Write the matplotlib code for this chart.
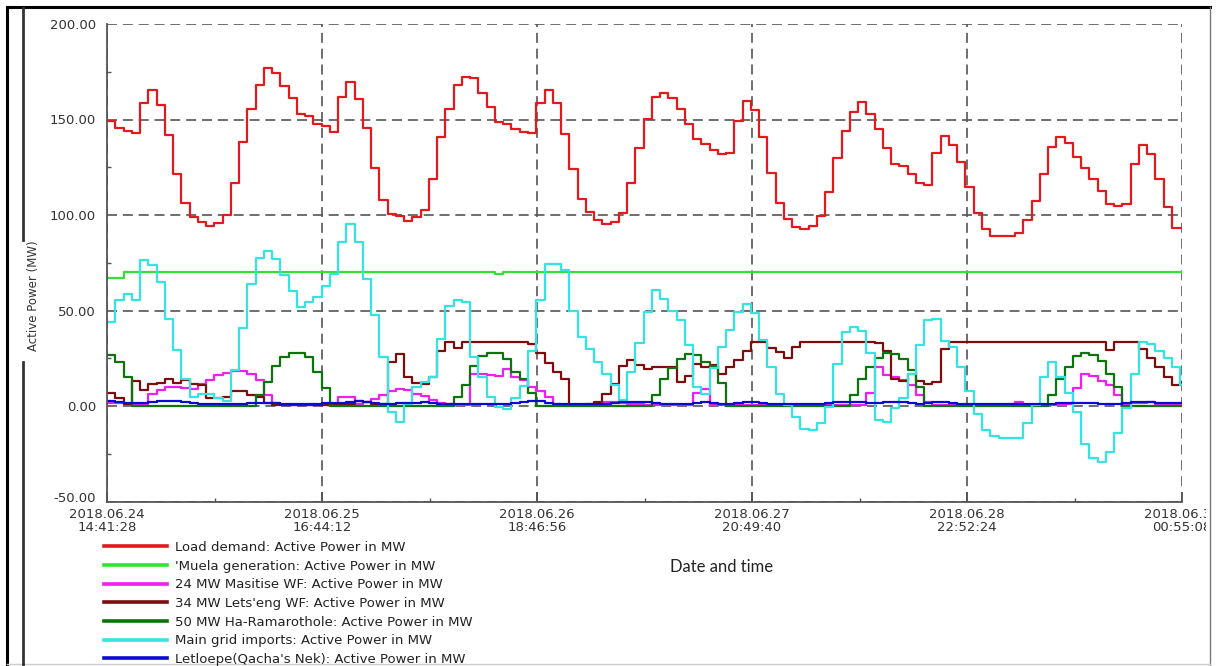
import numpy as np
import pandas as pd
import matplotlib
matplotlib.use('Agg')
import matplotlib.pyplot as plt
from matplotlib.lines import Line2D
from matplotlib.transforms import Bbox, TransformedBbox, ScaledTranslation

plt.rcParams['font.family'] = ['DejaVu Sans']
plt.rcParams['axes.unicode_minus'] = False

# 时间轴：从 2018.06.24 14:41:28 开始，每个主刻度间隔 1 天 2:02:44
start = pd.Timestamp('2018-06-24 14:41:28')
tick_step = pd.Timedelta('1 days 02:02:44')
tick_times = [start + k * tick_step for k in range(6)]
tick_labels = [t.strftime('%Y.%m.%d\n%H:%M:%S') for t in tick_times]

# 每小时一个采样点 (MW)
load_demand = [
    149.0, 145.3, 143.9, 142.7, 158.4, 165.7, 157.5, 141.8, 121.7, 106.3,
    99.0, 96.4, 94.3, 95.9, 99.9, 116.8, 138.3, 155.7, 168.3, 177.2,
    174.1, 167.4, 161.0, 153.1, 151.7, 147.9, 146.5, 143.5, 161.9, 169.7,
    160.5, 145.3, 124.8, 108.1, 100.7, 99.3, 96.9, 98.7, 102.8, 118.6,
    140.9, 155.7, 168.0, 172.3, 171.5, 164.0, 156.6, 148.8, 147.9, 144.8,
    143.5, 143.0, 158.7, 165.7, 158.7, 142.3, 124.3, 108.6, 101.6, 97.3,
    95.5, 96.4, 101.3, 116.8, 135.1, 150.5, 161.9, 164.0, 161.5, 155.7,
    147.9, 140.0, 137.1, 133.9, 131.7, 132.2, 149.3, 159.8, 154.9, 140.6,
    122.0, 106.3, 98.1, 93.8, 92.9, 94.0, 99.3, 112.1, 129.6, 144.0,
    154.0, 159.2, 153.1, 144.8, 135.3, 126.9, 125.7, 121.7, 116.5, 115.6,
    132.2, 141.3, 136.5, 127.5, 114.4, 101.3, 92.9, 88.9, 88.9, 88.9,
    90.6, 97.3, 107.4, 121.3, 135.7, 140.9, 137.8, 130.4, 124.8, 118.7,
    112.6, 105.6, 104.6, 106.0, 126.6, 136.5, 131.8, 118.7, 104.2, 93.2,
    93.2,
]
muela = [67.0, 67.0] + [70.0] * 45 + [69.3] + [70.0] * 83
masitise = [
    1.5, 1.5, 1.0, 1.0, 1.0, 6.5, 8.5, 10.0, 10.0, 9.5,
    9.0, 11.5, 13.5, 16.0, 17.5, 18.5, 18.5, 16.5, 13.5, 6.0,
    1.5, 0.5, 0.5, 0.5, 0.5, 0.5, 0.5, 1.0, 4.5, 4.5,
    1.0, 2.0, 3.5, 5.5, 8.0, 9.0, 8.5, 6.5, 5.0, 3.0,
    1.5, 1.0, 0.5, 0.5, 17.0, 17.0, 16.0, 15.5, 19.5, 15.0,
    13.5, 10.0, 8.0, 4.5, 1.0, 0.5, 0.5, 0.5, 1.0, 1.0,
    2.0, 2.0, 1.5, 1.0, 1.0, 0.5, 0.5, 0.5, 0.5, 0.5,
    0.5, 7.0, 9.0, 0.5, 0.5, 0.5, 0.5, 0.5, 0.5, 0.5,
    0.5, 0.5, 0.5, 0.5, 0.5, 0.5, 0.5, 0.5, 0.5, 0.5,
    0.5, 0.5, 7.0, 20.5, 16.0, 15.0, 13.5, 11.0, 6.0, 2.0,
    0.5, 0.5, 0.5, 0.5, 0.5, 0.5, 0.5, 0.5, 0.5, 0.5,
    2.0, 0.5, 0.5, 0.5, 0.5, 0.5, 1.0, 9.5, 17.0, 15.5,
    13.0, 11.0, 6.0, 0.5, 1.5, 1.5, 2.0, 1.0, 0.5, 0.5,
    0.5,
]
letseng = [
    7.0, 4.0, 1.0, 13.0, 8.5, 11.5, 12.0, 14.0, 12.0, 13.5,
    11.5, 11.0, 4.0, 4.0, 4.5, 8.0, 8.0, 6.0, 4.5, 1.5,
    0.5, 0.5, 0.5, 0.5, 0.5, 0.5, 0.5, 1.0, 1.0, 1.0,
    2.5, 2.0, 1.0, 1.0, 23.0, 27.0, 15.0, 12.0, 11.5, 15.0,
    29.0, 33.5, 30.5, 33.5, 33.5, 33.5, 33.5, 33.5, 33.5, 33.5,
    33.5, 32.5, 27.5, 22.5, 18.0, 14.0, 0.5, 0.5, 0.5, 2.0,
    6.5, 11.5, 21.0, 24.0, 21.5, 19.5, 20.5, 20.5, 20.5, 12.5,
    15.5, 22.0, 20.5, 21.5, 17.0, 20.5, 24.0, 29.0, 33.5, 33.5,
    30.5, 28.5, 25.0, 31.0, 33.5, 33.5, 33.5, 33.5, 33.5, 33.5,
    33.5, 33.5, 33.5, 33.0, 29.0, 14.0, 13.0, 17.0, 13.0, 11.5,
    12.5, 30.0, 33.5, 33.5, 33.5, 33.5, 33.5, 33.5, 33.5, 33.5,
    33.5, 33.5, 33.5, 33.5, 33.5, 33.5, 33.5, 33.5, 33.5, 33.5,
    33.5, 29.5, 33.5, 33.5, 33.5, 30.0, 25.0, 20.5, 15.0, 11.0,
    12.5,
]
ramarothole = [
    26.5, 23.0, 15.0, 0, 0, 0, 0, 0, 0, 0,
    0, 0, 0, 0, 0, 0, 0, 0, 5.5, 12.5,
    21.0, 25.5, 27.8, 27.8, 25.5, 18.0, 9.5, 0, 0, 0,
    0, 0, 0, 0, 0, 0, 0, 0, 0, 0,
    0, 0, 4.7, 11.0, 21.0, 26.0, 27.5, 27.5, 24.5, 18.0,
    14.0, 7.0, 0, 0, 0, 0, 0, 0, 0, 0,
    0, 0, 0, 0, 0, 0, 5.6, 14.3, 20.0, 24.8,
    27.4, 26.5, 23.0, 21.0, 12.0, 0, 0, 0, 0, 0,
    0, 0, 0, 0, 0, 0, 0, 0, 0, 0,
    6.0, 14.0, 20.5, 25.3, 27.8, 27.0, 24.5, 19.0, 10.0, 0,
    0, 0, 0, 0, 0, 0, 0, 0, 0, 0,
    0, 0, 0, 0, 5.6, 14.3, 20.4, 26.0, 27.8, 26.5,
    23.5, 17.0, 10.0, 0, 0, 0, 0, 0, 0, 0,
    0,
]
grid_imports = [
    44.0, 55.4, 58.9, 55.4, 76.3, 73.7, 65.0, 45.8, 29.5, 14.0,
    4.5, 6.5, 6.5, 4.0, 2.6, 18.7, 41.0, 64.1, 77.5, 81.0,
    77.0, 68.5, 60.0, 52.0, 54.5, 57.0, 63.0, 69.3, 86.0, 95.5,
    86.0, 66.5, 47.5, 25.5, -3.0, -8.5, 1.0, 10.0, 12.5, 15.0,
    35.0, 52.5, 55.5, 54.5, 25.5, 15.0, 4.5, -0.5, -1.5, 4.0,
    10.5, 29.0, 55.5, 74.5, 74.5, 71.0, 50.0, 36.0, 30.0, 23.0,
    17.0, 11.0, 3.0, 18.0, 33.0, 49.0, 60.5, 56.0, 49.5, 45.0,
    32.0, 10.0, 6.5, 20.0, 31.0, 40.0, 49.0, 53.5, 48.5, 34.5,
    20.5, 6.5, 0.5, -5.5, -12.0, -12.5, -9.0, -0.5, 22.0, 38.5,
    41.5, 39.5, 27.5, -7.5, -8.5, -1.0, 4.0, 17.0, 32.0, 45.0,
    45.5, 34.0, 31.0, 20.5, 8.0, -4.0, -12.5, -15.5, -16.5, -17.0,
    -17.0, -9.0, 0.5, 15.0, 23.0, 15.0, 7.0, -3.0, -20.0, -27.0,
    -29.5, -24.0, -14.0, -1.0, 17.0, 33.5, 32.5, 29.0, 25.0, 20.5,
    11.0,
]
letloepe = [
    2.5, 2.0, 1.5, 1.5, 1.5, 2.0, 2.5, 2.5, 2.5, 2.0,
    1.5, 1.0, 1.0, 1.0, 1.0, 1.0, 1.0, 1.5, 1.5, 1.5,
    1.5, 1.0, 1.0, 1.0, 1.0, 1.0, 1.5, 1.5, 1.5, 2.0,
    2.5, 2.0, 1.5, 1.0, 1.0, 1.5, 1.5, 1.5, 2.0, 1.5,
    1.0, 1.0, 1.0, 1.0, 1.0, 1.0, 1.0, 1.0, 1.0, 1.5,
    2.0, 2.5, 2.5, 1.5, 1.0, 1.0, 1.0, 1.0, 1.0, 1.0,
    1.0, 1.5, 2.0, 2.0, 2.0, 2.0, 1.5, 1.0, 1.0, 1.0,
    1.0, 1.5, 2.0, 1.5, 1.0, 1.0, 1.5, 2.0, 2.0, 1.5,
    1.0, 1.0, 1.0, 1.0, 1.0, 1.0, 1.0, 1.5, 2.0, 2.0,
    2.0, 2.0, 1.5, 1.5, 2.0, 2.0, 2.0, 1.5, 1.0, 1.5,
    2.0, 2.0, 1.5, 1.0, 1.0, 1.0, 1.0, 1.0, 1.0, 1.0,
    1.0, 1.0, 1.0, 1.0, 1.0, 1.5, 1.5, 1.5, 1.5, 1.5,
    1.0, 1.0, 1.0, 1.5, 2.0, 2.0, 2.0, 1.5, 1.5, 1.5,
    1.5,
]

series = [
    ("Load demand: Active Power in MW", load_demand, '#e3191e'),
    ("'Muela generation: Active Power in MW", muela, '#35e035'),
    ("24 MW Masitise WF: Active Power in MW", masitise, '#f01ef0'),
    ("34 MW Lets'eng WF: Active Power in MW", letseng, '#7d0c0c'),
    ("50 MW Ha-Ramarothole: Active Power in MW", ramarothole, '#0d740d'),
    ("Main grid imports: Active Power in MW", grid_imports, '#36e3e3'),
    ("Letloepe(Qacha's Nek): Active Power in MW", letloepe, '#0a0ad2'),
]

W, H = 1218, 666
hour = pd.Timedelta(hours=1)
tick_pos = [(t - start) / hour for t in tick_times]
t_end = tick_pos[-1]
hours = np.arange(len(load_demand))

fig = plt.figure(figsize=(W / 100, H / 100), dpi=100)
fig.patch.set_facecolor('white')
ax = fig.add_axes([107 / W, 1 - 501.5 / H, (1182 - 107) / W, (501.5 - 24) / H])

handles = []
for label, values, color in series:
    x = np.append(hours, t_end)
    y = np.append(values, values[-1])
    ax.plot(x, y, drawstyle='steps-post', color=color, lw=1.6)
    handles.append(Line2D([], [], color=color, lw=2.6, label=label))

ax.set_xlim(0, t_end)
ax.set_ylim(-50, 200)

# 坐标轴刻度
ax.set_xticks(tick_pos)
ax.set_xticklabels(tick_labels)
ax.set_xticks([(a + b) / 2 for a, b in zip(tick_pos[:-1], tick_pos[1:])], minor=True)
yticks = [-50, 0, 50, 100, 150, 200]
ax.set_yticks(yticks)
ax.set_yticklabels([f'{v:.2f}' for v in yticks])
ax.set_yticks([v + 25 for v in yticks[:-1]], minor=True)

ax.grid(True, which='major', linestyle=(0, (6, 3.5)), color='#555555', lw=1.2)
for side in ['top', 'right']:
    ax.spines[side].set_visible(False)
for side in ['left', 'bottom']:
    ax.spines[side].set_color('#555555')
    ax.spines[side].set_linewidth(1.3)

ax.tick_params(which='both', direction='in', colors='#555555', labelcolor='#333333', labelsize=9.5)
ax.tick_params(axis='x', which='major', length=7, width=1.3, pad=5)
ax.tick_params(axis='y', which='major', length=0, pad=8)
ax.tick_params(which='minor', length=3, width=1)

# 最下面的 -50.00 稍微上移
ax.get_yticklabels()[0].set_transform(
    ax.get_yaxis_text1_transform(8)[0] + ScaledTranslation(0, 4 / 100, fig.dpi_scale_trans))

# 最后一个时间标签被右边框截断
clip = TransformedBbox(Bbox.from_extents(0, 0, 1206 / W, 1), fig.transFigure)
for lbl in ax.get_xticklabels():
    lbl.set_linespacing(0.95)
    lbl.set_clip_box(clip)
    lbl.set_clip_on(True)

# 图例放在坐标区下方
fig.legend(handles=handles, loc='upper left', bbox_to_anchor=(104 / W, 1 - 541 / H),
           frameon=False, fontsize=9.5, handlelength=4.8, handletextpad=0.55,
           labelspacing=0.43, borderpad=0, borderaxespad=0, labelcolor='#222222')

fig.text(34 / W, 1 - 296 / H, 'Active Power (MW)', rotation=90, fontsize=8.5,
         color='#333333', ha='center', va='center')
fig.text(722 / W, 1 - 567 / H, 'Date and time', fontsize=12, family='Lato',
         color='#222222', ha='center', va='center')

# 外框线
def frame_line(xs, ys, **kw):
    fig.add_artist(Line2D([v / W for v in xs], [1 - v / H for v in ys],
                          transform=fig.transFigure, **kw))

frame_line([7, 1210], [7, 7], color='black', lw=2.2)
frame_line([7, 7], [7, 666], color='black', lw=2.2)
frame_line([1210, 1210], [7, 666], color='#777777', lw=1.0)
frame_line([7, 1210], [664, 664], color='#cccccc', lw=1.0)
frame_line([23, 23], [8, 240], color='#333333', lw=2.0)
frame_line([23, 23], [362, 666], color='#333333', lw=2.0)

fig.savefig('out.png', dpi=100, facecolor='white')
